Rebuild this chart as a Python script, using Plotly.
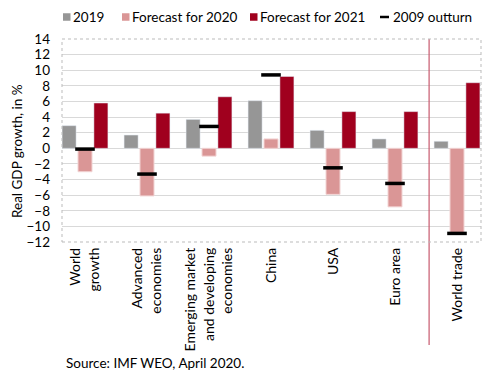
import plotly.graph_objects as go

categories = ["World<br>growth", "Advanced<br>economies", "Emerging market<br>and developing<br>economies",
              "China", "USA", "Euro area", "World trade"]
y2019 = [2.9, 1.7, 3.7, 6.1, 2.3, 1.2, 0.9]
f2020 = [-3.0, -6.1, -1.0, 1.2, -5.9, -7.5, -11.0]
f2021 = [5.8, 4.5, 6.6, 9.2, 4.7, 4.7, 8.4]
out2009 = [-0.1, -3.3, 2.8, 9.4, -2.5, -4.5, -10.9]
y_ticks = list(range(-12, 15, 2))
series_names = ["2019", "Forecast for 2020", "Forecast for 2021", "2009 outturn"]
colors = ["#969696", "#DA9696", "#A0001E", "black"]

font = "Lato"
OFF = 8  # page body margin
W, H = 490 - 2 * OFF, 380 - 2 * OFF
# plot area in reference pixels
PL, PR, PT, PB = 62, 481, 39, 242
L, R, T, B = PL - OFF, W - (PR - OFF), PT - OFF, H - (PB - OFF)
pw, ph = PR - PL, PB - PT

def px(x):  # reference pixel -> paper
    return (x - PL) / pw

def py(y):
    return (PB - y) / ph

fig = go.Figure()
fig.add_bar(x=categories, y=y2019, name=series_names[0], marker_color=colors[0], offsetgroup="a")
fig.add_bar(x=categories, y=f2020, name=series_names[1], marker_color=colors[1],
            marker_line=dict(color="#F2D4D4", width=1), offsetgroup="b")
fig.add_bar(x=categories, y=f2021, name=series_names[2], marker_color=colors[2], offsetgroup="c")
fig.add_scatter(x=categories, y=out2009, name=series_names[3], mode="markers",
                marker=dict(symbol="line-ew", size=14, line=dict(color="black", width=3.5)))

fig.add_shape(type="line", xref="x", yref="paper", x0=5.55, x1=5.55, y0=py(345), y1=1,
              line=dict(color="#C8596E", width=1.2))
fig.add_shape(type="rect", xref="paper", yref="paper", x0=0, x1=1, y0=0, y1=1,
              line=dict(color="#BBBBBB", width=1, dash="dot"))

# legend
leg_y = 17
sym_x = [63, 122, 250, 380]
txt_x = [71, 130, 258, 391]
for i in range(4):
    if i < 3:
        fig.add_shape(type="rect", xref="paper", yref="paper",
                      x0=px(sym_x[i]), x1=px(sym_x[i] + 7.5), y0=py(leg_y + 3.75), y1=py(leg_y - 3.75),
                      fillcolor=colors[i], line=dict(width=0))
    else:
        fig.add_shape(type="line", xref="paper", yref="paper",
                      x0=px(sym_x[i]), x1=px(sym_x[i] + 9), y0=py(leg_y), y1=py(leg_y),
                      line=dict(color="black", width=2.5))
    fig.add_annotation(text=series_names[i], xref="paper", yref="paper",
                       x=px(txt_x[i]), y=py(leg_y), xanchor="left", yanchor="middle",
                       showarrow=False, font=dict(family=font, size=13.5, color="black"))

fig.add_annotation(text="Real GDP growth, in %", xref="paper", yref="paper",
                   x=px(17), y=py(151), textangle=-90, xanchor="center", yanchor="middle",
                   showarrow=False, font=dict(family=font, size=13.5, color="black"))
fig.add_annotation(text="Source: IMF WEO, April 2020.", xref="paper", yref="paper",
                   x=px(64), y=py(363), xanchor="left", yanchor="middle", showarrow=False,
                   font=dict(family=font, size=13.5, color="black"))

fig.update_layout(
    width=W, height=H,
    margin=dict(l=L, r=R, t=T, b=B, autoexpand=False),
    plot_bgcolor="white", paper_bgcolor="white",
    font=dict(family=font, size=13, color="black"),
    barmode="group", bargap=0.23, bargroupgap=0.12,
    showlegend=False,
    xaxis=dict(tickangle=-90, showgrid=False, ticks="", showline=False, automargin=False,
               range=[(PL - 85) / 62, (PR - 85) / 62],
               tickfont=dict(size=14), ticklabelstandoff=2),
    yaxis=dict(range=[-12, 14], tickvals=y_ticks, showgrid=True, gridcolor="#D9D9D9",
               zeroline=False, showline=False, ticks="", automargin=False,
               tickfont=dict(size=13.5), ticklabelstandoff=11),
)
fig.write_html("out.html")
